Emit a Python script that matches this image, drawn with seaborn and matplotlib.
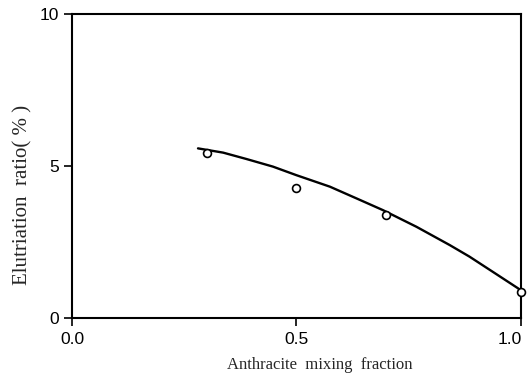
import matplotlib
matplotlib.use("Agg")
import matplotlib.pyplot as plt
from matplotlib.transforms import ScaledTranslation
import seaborn as sns
import pandas as pd

# measured points
frac_pts = [0.30, 0.50, 0.70, 1.00]
ratio_pts = [5.44, 4.29, 3.38, 0.87]

# fitted curve
frac_curve = [0.281, 0.337, 0.389, 0.448, 0.500, 0.575, 0.638, 0.693,
              0.768, 0.842, 0.886, 0.938, 0.994, 1.000]
ratio_curve = [5.58, 5.44, 5.23, 4.98, 4.70, 4.32, 3.91, 3.55,
               3.00, 2.40, 2.02, 1.52, 0.98, 0.92]

x_ticks = [0.0, 0.5, 1.0]
x_ticklabels = ["0.0", "0.5", "1.0"]
y_ticks = [0, 5, 10]

sns.set_style("ticks")
plt.rcParams["font.family"] = ["Liberation Sans", "DejaVu Sans"]

fig, ax = plt.subplots(figsize=(5.29, 3.79), dpi=100)
fig.subplots_adjust(left=0.136, right=0.984, bottom=0.161, top=0.963)

curve = pd.DataFrame({"x": frac_curve, "y": ratio_curve})
pts = pd.DataFrame({"x": frac_pts, "y": ratio_pts})

sns.lineplot(data=curve, x="x", y="y", ax=ax, color="black", linewidth=1.7,
             estimator=None, sort=True)
sns.scatterplot(data=pts, x="x", y="y", ax=ax, marker="o", s=32,
                facecolor="white", edgecolor="black", linewidth=1.2, zorder=3,
                clip_on=False)

ax.set_xlim(0, 1.0)
ax.set_ylim(0, 10)
ax.set_xticks(x_ticks)
ax.set_xticklabels(x_ticklabels)
ax.set_yticks(y_ticks)
ax.tick_params(direction="out", length=6, width=1.2, labelsize=12.5, colors="black")
ax.tick_params(axis="x", pad=4)
for s in ax.spines.values():
    s.set_linewidth(1.5)
    s.set_color("black")

# last x label sits a little left of its tick in the original
last = ax.get_xticklabels()[-1]
last.set_transform(last.get_transform() + ScaledTranslation(-8 / 72, 0, fig.dpi_scale_trans))

ax.set_xlabel("Anthracite  mixing  fraction", family="Liberation Serif", fontsize=12)
ax.set_ylabel("Elutriation  ratio( % )", family="Liberation Serif", fontsize=15)
# labels are off-centre in the original
ax.xaxis.set_label_coords(0.552, -0.128)
ax.yaxis.set_label_coords(-0.089, 0.405)

fig.savefig("out.png", dpi=100)
